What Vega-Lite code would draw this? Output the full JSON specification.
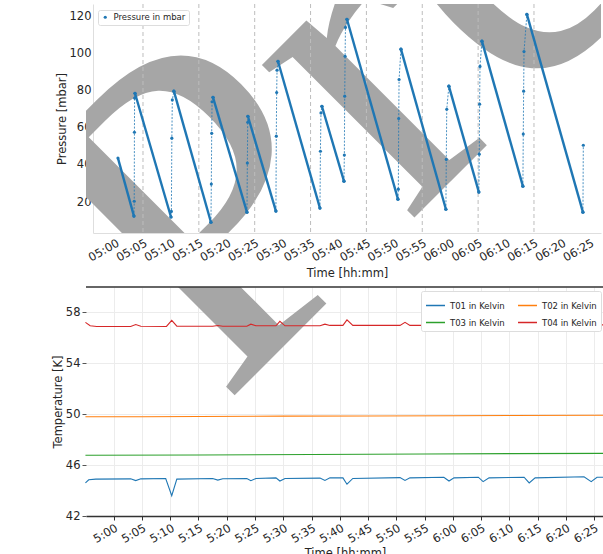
{
  "$schema": "https://vega.github.io/schema/vega-lite/v6.json",
  "padding": {"left": 52, "top": 3, "right": 0, "bottom": 0},
  "spacing": 6,
  "background": "white",
  "resolve": {"scale": {"color": "independent", "x": "independent", "y": "independent"}, "legend": {"color": "independent"}},
  "config": {
    "font": "DejaVu Sans",
    "view": {"stroke": null},
    "axis": {"labelFont": "DejaVu Sans", "titleFont": "DejaVu Sans", "labelFontSize": 11.5, "titleFontSize": 11.5, "titleFontWeight": "normal", "labelColor": "#262626", "titleColor": "#262626"},
    "legend": {"labelFont": "DejaVu Sans", "labelFontSize": 8.5, "labelColor": "#262626"}
  },
  "datasets": {
    "pressure": [
      {"t": "2012-01-01T05:00:31", "p": 43.7, "seg": "f1", "kind": "fall"},
      {"t": "2012-01-01T05:03:23", "p": 12.5, "seg": "f1", "kind": "fall"},
      {"t": "2012-01-01T05:03:23", "p": 12.5, "seg": "r1", "kind": "rise"},
      {"t": "2012-01-01T05:03:26", "p": 20.5, "seg": "r1", "kind": "rise"},
      {"t": "2012-01-01T05:03:28", "p": 57.6, "seg": "r1", "kind": "rise"},
      {"t": "2012-01-01T05:03:30", "p": 76.0, "seg": "r1", "kind": "rise"},
      {"t": "2012-01-01T05:03:34", "p": 78.6, "seg": "r1", "kind": "rise"},
      {"t": "2012-01-01T05:03:34", "p": 78.6, "seg": "f2", "kind": "fall"},
      {"t": "2012-01-01T05:10:01", "p": 12.0, "seg": "f2", "kind": "fall"},
      {"t": "2012-01-01T05:10:01", "p": 12.0, "seg": "r2", "kind": "rise"},
      {"t": "2012-01-01T05:10:05", "p": 15.0, "seg": "r2", "kind": "rise"},
      {"t": "2012-01-01T05:10:10", "p": 54.4, "seg": "r2", "kind": "rise"},
      {"t": "2012-01-01T05:10:15", "p": 75.0, "seg": "r2", "kind": "rise"},
      {"t": "2012-01-01T05:10:32", "p": 79.7, "seg": "r2", "kind": "rise"},
      {"t": "2012-01-01T05:10:32", "p": 79.7, "seg": "f3", "kind": "fall"},
      {"t": "2012-01-01T05:17:10", "p": 9.2, "seg": "f3", "kind": "fall"},
      {"t": "2012-01-01T05:17:10", "p": 9.2, "seg": "r3", "kind": "rise"},
      {"t": "2012-01-01T05:17:14", "p": 29.7, "seg": "r3", "kind": "rise"},
      {"t": "2012-01-01T05:17:18", "p": 57.0, "seg": "r3", "kind": "rise"},
      {"t": "2012-01-01T05:17:22", "p": 74.0, "seg": "r3", "kind": "rise"},
      {"t": "2012-01-01T05:17:32", "p": 76.4, "seg": "r3", "kind": "rise"},
      {"t": "2012-01-01T05:17:32", "p": 76.4, "seg": "f4", "kind": "fall"},
      {"t": "2012-01-01T05:23:37", "p": 14.6, "seg": "f4", "kind": "fall"},
      {"t": "2012-01-01T05:23:37", "p": 14.6, "seg": "r4", "kind": "rise"},
      {"t": "2012-01-01T05:23:41", "p": 41.0, "seg": "r4", "kind": "rise"},
      {"t": "2012-01-01T05:23:45", "p": 63.0, "seg": "r4", "kind": "rise"},
      {"t": "2012-01-01T05:23:47", "p": 66.2, "seg": "r4", "kind": "rise"},
      {"t": "2012-01-01T05:23:47", "p": 66.2, "seg": "f5", "kind": "fall"},
      {"t": "2012-01-01T05:28:48", "p": 15.2, "seg": "f5", "kind": "fall"},
      {"t": "2012-01-01T05:28:48", "p": 15.2, "seg": "r5", "kind": "rise"},
      {"t": "2012-01-01T05:28:52", "p": 55.5, "seg": "r5", "kind": "rise"},
      {"t": "2012-01-01T05:28:56", "p": 79.0, "seg": "r5", "kind": "rise"},
      {"t": "2012-01-01T05:29:00", "p": 91.0, "seg": "r5", "kind": "rise"},
      {"t": "2012-01-01T05:29:10", "p": 95.8, "seg": "r5", "kind": "rise"},
      {"t": "2012-01-01T05:29:10", "p": 95.8, "seg": "f6", "kind": "fall"},
      {"t": "2012-01-01T05:36:41", "p": 16.8, "seg": "f6", "kind": "fall"},
      {"t": "2012-01-01T05:36:41", "p": 16.8, "seg": "r6", "kind": "rise"},
      {"t": "2012-01-01T05:36:46", "p": 47.4, "seg": "r6", "kind": "rise"},
      {"t": "2012-01-01T05:36:52", "p": 68.0, "seg": "r6", "kind": "rise"},
      {"t": "2012-01-01T05:37:02", "p": 71.6, "seg": "r6", "kind": "rise"},
      {"t": "2012-01-01T05:37:02", "p": 71.6, "seg": "f7", "kind": "fall"},
      {"t": "2012-01-01T05:40:59", "p": 31.3, "seg": "f7", "kind": "fall"},
      {"t": "2012-01-01T05:40:59", "p": 31.3, "seg": "r7", "kind": "rise"},
      {"t": "2012-01-01T05:41:03", "p": 45.3, "seg": "r7", "kind": "rise"},
      {"t": "2012-01-01T05:41:07", "p": 77.0, "seg": "r7", "kind": "rise"},
      {"t": "2012-01-01T05:41:11", "p": 98.5, "seg": "r7", "kind": "rise"},
      {"t": "2012-01-01T05:41:15", "p": 114.0, "seg": "r7", "kind": "rise"},
      {"t": "2012-01-01T05:41:31", "p": 118.4, "seg": "r7", "kind": "rise"},
      {"t": "2012-01-01T05:41:31", "p": 118.4, "seg": "f8", "kind": "fall"},
      {"t": "2012-01-01T05:50:39", "p": 21.6, "seg": "f8", "kind": "fall"},
      {"t": "2012-01-01T05:50:39", "p": 21.6, "seg": "r8", "kind": "rise"},
      {"t": "2012-01-01T05:50:43", "p": 27.0, "seg": "r8", "kind": "rise"},
      {"t": "2012-01-01T05:50:47", "p": 65.0, "seg": "r8", "kind": "rise"},
      {"t": "2012-01-01T05:50:51", "p": 86.0, "seg": "r8", "kind": "rise"},
      {"t": "2012-01-01T05:51:11", "p": 102.3, "seg": "r8", "kind": "rise"},
      {"t": "2012-01-01T05:51:11", "p": 102.3, "seg": "f9", "kind": "fall"},
      {"t": "2012-01-01T05:59:14", "p": 16.2, "seg": "f9", "kind": "fall"},
      {"t": "2012-01-01T05:59:14", "p": 16.2, "seg": "r9", "kind": "rise"},
      {"t": "2012-01-01T05:59:18", "p": 43.0, "seg": "r9", "kind": "rise"},
      {"t": "2012-01-01T05:59:23", "p": 70.0, "seg": "r9", "kind": "rise"},
      {"t": "2012-01-01T05:59:46", "p": 82.4, "seg": "r9", "kind": "rise"},
      {"t": "2012-01-01T05:59:46", "p": 82.4, "seg": "f10", "kind": "fall"},
      {"t": "2012-01-01T06:05:08", "p": 25.4, "seg": "f10", "kind": "fall"},
      {"t": "2012-01-01T06:05:08", "p": 25.4, "seg": "r10", "kind": "rise"},
      {"t": "2012-01-01T06:05:12", "p": 45.8, "seg": "r10", "kind": "rise"},
      {"t": "2012-01-01T06:05:16", "p": 72.7, "seg": "r10", "kind": "rise"},
      {"t": "2012-01-01T06:05:20", "p": 93.0, "seg": "r10", "kind": "rise"},
      {"t": "2012-01-01T06:05:41", "p": 106.6, "seg": "r10", "kind": "rise"},
      {"t": "2012-01-01T06:05:41", "p": 106.6, "seg": "f11", "kind": "fall"},
      {"t": "2012-01-01T06:13:01", "p": 28.6, "seg": "f11", "kind": "fall"},
      {"t": "2012-01-01T06:13:01", "p": 28.6, "seg": "r11", "kind": "rise"},
      {"t": "2012-01-01T06:13:05", "p": 56.6, "seg": "r11", "kind": "rise"},
      {"t": "2012-01-01T06:13:09", "p": 79.7, "seg": "r11", "kind": "rise"},
      {"t": "2012-01-01T06:13:13", "p": 101.0, "seg": "r11", "kind": "rise"},
      {"t": "2012-01-01T06:13:44", "p": 121.0, "seg": "r11", "kind": "rise"},
      {"t": "2012-01-01T06:13:44", "p": 121.0, "seg": "f12", "kind": "fall"},
      {"t": "2012-01-01T06:23:46", "p": 14.6, "seg": "f12", "kind": "fall"},
      {"t": "2012-01-01T06:23:46", "p": 14.6, "seg": "r12", "kind": "rise"},
      {"t": "2012-01-01T06:23:50", "p": 50.6, "seg": "r12", "kind": "rise"}
    ],
    "markers": [
      {"t": "2012-01-01T05:05:00"}, {"t": "2012-01-01T05:15:00"}, {"t": "2012-01-01T05:25:00"}, {"t": "2012-01-01T05:35:00"},
      {"t": "2012-01-01T05:45:00"}, {"t": "2012-01-01T05:55:00"}, {"t": "2012-01-01T06:05:00"}, {"t": "2012-01-01T06:15:00"}
    ],
    "temps": [
      {"t": "2012-01-01T04:55:00", "T": 44.6, "s": "T01 in Kelvin"},
      {"t": "2012-01-01T04:55:35", "T": 44.85, "s": "T01 in Kelvin"},
      {"t": "2012-01-01T04:56:50", "T": 44.9, "s": "T01 in Kelvin"},
      {"t": "2012-01-01T05:03:00", "T": 44.92, "s": "T01 in Kelvin"},
      {"t": "2012-01-01T05:03:54", "T": 44.78, "s": "T01 in Kelvin"},
      {"t": "2012-01-01T05:04:48", "T": 44.92, "s": "T01 in Kelvin"},
      {"t": "2012-01-01T05:09:12", "T": 44.95, "s": "T01 in Kelvin"},
      {"t": "2012-01-01T05:10:16", "T": 43.6, "s": "T01 in Kelvin"},
      {"t": "2012-01-01T05:11:10", "T": 44.9, "s": "T01 in Kelvin"},
      {"t": "2012-01-01T05:17:30", "T": 44.95, "s": "T01 in Kelvin"},
      {"t": "2012-01-01T05:18:25", "T": 44.82, "s": "T01 in Kelvin"},
      {"t": "2012-01-01T05:19:18", "T": 44.93, "s": "T01 in Kelvin"},
      {"t": "2012-01-01T05:23:33", "T": 44.95, "s": "T01 in Kelvin"},
      {"t": "2012-01-01T05:24:16", "T": 44.78, "s": "T01 in Kelvin"},
      {"t": "2012-01-01T05:25:09", "T": 44.95, "s": "T01 in Kelvin"},
      {"t": "2012-01-01T05:28:42", "T": 45.0, "s": "T01 in Kelvin"},
      {"t": "2012-01-01T05:29:24", "T": 44.75, "s": "T01 in Kelvin"},
      {"t": "2012-01-01T05:30:18", "T": 44.95, "s": "T01 in Kelvin"},
      {"t": "2012-01-01T05:36:30", "T": 44.98, "s": "T01 in Kelvin"},
      {"t": "2012-01-01T05:37:22", "T": 44.8, "s": "T01 in Kelvin"},
      {"t": "2012-01-01T05:38:15", "T": 45.0, "s": "T01 in Kelvin"},
      {"t": "2012-01-01T05:40:33", "T": 45.0, "s": "T01 in Kelvin"},
      {"t": "2012-01-01T05:41:16", "T": 44.5, "s": "T01 in Kelvin"},
      {"t": "2012-01-01T05:42:18", "T": 44.95, "s": "T01 in Kelvin"},
      {"t": "2012-01-01T05:50:39", "T": 45.02, "s": "T01 in Kelvin"},
      {"t": "2012-01-01T05:51:32", "T": 44.8, "s": "T01 in Kelvin"},
      {"t": "2012-01-01T05:52:24", "T": 45.0, "s": "T01 in Kelvin"},
      {"t": "2012-01-01T05:58:24", "T": 45.05, "s": "T01 in Kelvin"},
      {"t": "2012-01-01T05:59:19", "T": 44.75, "s": "T01 in Kelvin"},
      {"t": "2012-01-01T06:00:12", "T": 45.0, "s": "T01 in Kelvin"},
      {"t": "2012-01-01T06:04:30", "T": 45.05, "s": "T01 in Kelvin"},
      {"t": "2012-01-01T06:05:21", "T": 44.7, "s": "T01 in Kelvin"},
      {"t": "2012-01-01T06:06:24", "T": 45.0, "s": "T01 in Kelvin"},
      {"t": "2012-01-01T06:12:36", "T": 45.05, "s": "T01 in Kelvin"},
      {"t": "2012-01-01T06:13:30", "T": 44.6, "s": "T01 in Kelvin"},
      {"t": "2012-01-01T06:14:33", "T": 45.0, "s": "T01 in Kelvin"},
      {"t": "2012-01-01T06:23:12", "T": 45.08, "s": "T01 in Kelvin"},
      {"t": "2012-01-01T06:24:28", "T": 44.7, "s": "T01 in Kelvin"},
      {"t": "2012-01-01T06:25:30", "T": 45.05, "s": "T01 in Kelvin"},
      {"t": "2012-01-01T06:26:44", "T": 45.05, "s": "T01 in Kelvin"},
      {"t": "2012-01-01T04:55:00", "T": 49.8, "s": "T02 in Kelvin"},
      {"t": "2012-01-01T05:05:00", "T": 49.8, "s": "T02 in Kelvin"},
      {"t": "2012-01-01T05:15:00", "T": 49.82, "s": "T02 in Kelvin"},
      {"t": "2012-01-01T05:30:00", "T": 49.85, "s": "T02 in Kelvin"},
      {"t": "2012-01-01T05:45:00", "T": 49.86, "s": "T02 in Kelvin"},
      {"t": "2012-01-01T06:00:00", "T": 49.88, "s": "T02 in Kelvin"},
      {"t": "2012-01-01T06:10:00", "T": 49.9, "s": "T02 in Kelvin"},
      {"t": "2012-01-01T06:26:44", "T": 49.92, "s": "T02 in Kelvin"},
      {"t": "2012-01-01T04:55:00", "T": 46.78, "s": "T03 in Kelvin"},
      {"t": "2012-01-01T05:15:00", "T": 46.8, "s": "T03 in Kelvin"},
      {"t": "2012-01-01T05:35:00", "T": 46.83, "s": "T03 in Kelvin"},
      {"t": "2012-01-01T05:55:00", "T": 46.87, "s": "T03 in Kelvin"},
      {"t": "2012-01-01T06:10:00", "T": 46.9, "s": "T03 in Kelvin"},
      {"t": "2012-01-01T06:26:44", "T": 46.92, "s": "T03 in Kelvin"},
      {"t": "2012-01-01T04:55:00", "T": 57.22, "s": "T04 in Kelvin"},
      {"t": "2012-01-01T04:55:50", "T": 56.95, "s": "T04 in Kelvin"},
      {"t": "2012-01-01T04:57:00", "T": 56.9, "s": "T04 in Kelvin"},
      {"t": "2012-01-01T05:03:00", "T": 56.9, "s": "T04 in Kelvin"},
      {"t": "2012-01-01T05:03:54", "T": 57.05, "s": "T04 in Kelvin"},
      {"t": "2012-01-01T05:04:48", "T": 56.92, "s": "T04 in Kelvin"},
      {"t": "2012-01-01T05:09:20", "T": 56.9, "s": "T04 in Kelvin"},
      {"t": "2012-01-01T05:10:16", "T": 57.38, "s": "T04 in Kelvin"},
      {"t": "2012-01-01T05:11:10", "T": 56.92, "s": "T04 in Kelvin"},
      {"t": "2012-01-01T05:17:30", "T": 56.92, "s": "T04 in Kelvin"},
      {"t": "2012-01-01T05:18:25", "T": 56.97, "s": "T04 in Kelvin"},
      {"t": "2012-01-01T05:19:18", "T": 56.92, "s": "T04 in Kelvin"},
      {"t": "2012-01-01T05:23:33", "T": 56.92, "s": "T04 in Kelvin"},
      {"t": "2012-01-01T05:24:16", "T": 57.08, "s": "T04 in Kelvin"},
      {"t": "2012-01-01T05:25:09", "T": 56.95, "s": "T04 in Kelvin"},
      {"t": "2012-01-01T05:28:42", "T": 56.95, "s": "T04 in Kelvin"},
      {"t": "2012-01-01T05:29:24", "T": 57.3, "s": "T04 in Kelvin"},
      {"t": "2012-01-01T05:30:18", "T": 56.95, "s": "T04 in Kelvin"},
      {"t": "2012-01-01T05:36:30", "T": 56.95, "s": "T04 in Kelvin"},
      {"t": "2012-01-01T05:37:22", "T": 57.08, "s": "T04 in Kelvin"},
      {"t": "2012-01-01T05:38:15", "T": 56.98, "s": "T04 in Kelvin"},
      {"t": "2012-01-01T05:40:33", "T": 56.98, "s": "T04 in Kelvin"},
      {"t": "2012-01-01T05:41:16", "T": 57.42, "s": "T04 in Kelvin"},
      {"t": "2012-01-01T05:42:18", "T": 56.98, "s": "T04 in Kelvin"},
      {"t": "2012-01-01T05:50:39", "T": 56.98, "s": "T04 in Kelvin"},
      {"t": "2012-01-01T05:51:32", "T": 57.22, "s": "T04 in Kelvin"},
      {"t": "2012-01-01T05:52:24", "T": 56.98, "s": "T04 in Kelvin"},
      {"t": "2012-01-01T05:58:24", "T": 56.98, "s": "T04 in Kelvin"},
      {"t": "2012-01-01T05:59:19", "T": 57.22, "s": "T04 in Kelvin"},
      {"t": "2012-01-01T06:00:12", "T": 57.0, "s": "T04 in Kelvin"},
      {"t": "2012-01-01T06:04:30", "T": 57.0, "s": "T04 in Kelvin"},
      {"t": "2012-01-01T06:05:21", "T": 57.42, "s": "T04 in Kelvin"},
      {"t": "2012-01-01T06:06:24", "T": 57.0, "s": "T04 in Kelvin"},
      {"t": "2012-01-01T06:12:36", "T": 57.0, "s": "T04 in Kelvin"},
      {"t": "2012-01-01T06:13:30", "T": 57.28, "s": "T04 in Kelvin"},
      {"t": "2012-01-01T06:14:33", "T": 57.0, "s": "T04 in Kelvin"},
      {"t": "2012-01-01T06:23:12", "T": 57.0, "s": "T04 in Kelvin"},
      {"t": "2012-01-01T06:24:28", "T": 57.12, "s": "T04 in Kelvin"},
      {"t": "2012-01-01T06:25:30", "T": 57.02, "s": "T04 in Kelvin"},
      {"t": "2012-01-01T06:26:44", "T": 57.02, "s": "T04 in Kelvin"}
    ]
  },
  "vconcat": [
    {
      "width": 515,
      "height": 229,
      "layer": [
        {
          "data": {"values": [{}]},
          "mark": {"type": "text", "text": "Preliminary", "font": "Liberation Serif", "fontSize": 470, "angle": -45, "align": "left", "baseline": "alphabetic", "color": "#a6a6a6", "clip": true},
          "encoding": {
            "x": {"datum": {"year": 2012, "month": 1, "date": 1, "hours": 5, "minutes": 19, "seconds": 19}, "type": "temporal", "title": "Time [hh:mm]",
                  "scale": {"domain": [{"year": 2012, "month": 1, "date": 1, "hours": 4, "minutes": 56, "seconds": 3}, {"year": 2012, "month": 1, "date": 1, "hours": 6, "minutes": 27}], "range": [7, 515], "nice": false}},
            "y": {"datum": -91.3, "type": "quantitative", "title": "Pressure [mbar]", "scale": {"domain": [3.4, 126.6], "nice": false, "zero": false}}
          }
        },
        {
          "data": {"name": "markers"},
          "mark": {"type": "rule", "color": "#bdbdbd", "strokeWidth": 1, "strokeDash": [4, 3]},
          "encoding": {
            "x": {"field": "t", "type": "temporal", "title": "Time [hh:mm]",
                  "scale": {"domain": [{"year": 2012, "month": 1, "date": 1, "hours": 4, "minutes": 56, "seconds": 3}, {"year": 2012, "month": 1, "date": 1, "hours": 6, "minutes": 27}], "range": [7, 515], "nice": false}}
          }
        },
        {
          "data": {"name": "pressure"},
          "transform": [{"filter": "datum.kind == 'fall'"}],
          "mark": {"type": "line", "color": "#1f77b4", "strokeWidth": 2.4},
          "encoding": {
            "x": {"field": "t", "type": "temporal", "title": "Time [hh:mm]",
                  "scale": {"domain": [{"year": 2012, "month": 1, "date": 1, "hours": 4, "minutes": 56, "seconds": 3}, {"year": 2012, "month": 1, "date": 1, "hours": 6, "minutes": 27}], "range": [7, 515], "nice": false},
                  "axis": {"format": "%H:%M", "tickCount": 18, "labelAngle": -30, "labelAlign": "right", "labelBaseline": "top", "grid": false, "ticks": false, "domainColor": "#dedede", "labelPadding": 4, "titlePadding": 4, "labelOverlap": false}},
            "y": {"field": "p", "type": "quantitative", "title": "Pressure [mbar]", "scale": {"domain": [3.4, 126.6], "nice": false, "zero": false},
                  "axis": {"values": [20, 40, 60, 80, 100, 120], "ticks": false, "grid": false, "domainColor": "#dedede", "offset": -7, "labelPadding": 2, "titlePadding": 2}},
            "detail": {"field": "seg"}
          }
        },
        {
          "data": {"name": "pressure"},
          "transform": [{"filter": "datum.kind == 'rise'"}],
          "mark": {"type": "line", "color": "#1f77b4", "strokeWidth": 1, "strokeDash": [2, 1.5], "opacity": 0.8},
          "encoding": {
            "x": {"field": "t", "type": "temporal", "title": "Time [hh:mm]",
                  "scale": {"domain": [{"year": 2012, "month": 1, "date": 1, "hours": 4, "minutes": 56, "seconds": 3}, {"year": 2012, "month": 1, "date": 1, "hours": 6, "minutes": 27}], "range": [7, 515], "nice": false}},
            "y": {"field": "p", "type": "quantitative", "title": "Pressure [mbar]", "scale": {"domain": [3.4, 126.6], "nice": false, "zero": false}},
            "detail": {"field": "seg"}
          }
        },
        {
          "data": {"name": "pressure"},
          "mark": {"type": "point", "filled": true, "size": 10, "opacity": 1},
          "encoding": {
            "x": {"field": "t", "type": "temporal", "title": "Time [hh:mm]",
                  "scale": {"domain": [{"year": 2012, "month": 1, "date": 1, "hours": 4, "minutes": 56, "seconds": 3}, {"year": 2012, "month": 1, "date": 1, "hours": 6, "minutes": 27}], "range": [7, 515], "nice": false}},
            "y": {"field": "p", "type": "quantitative", "title": "Pressure [mbar]", "scale": {"domain": [3.4, 126.6], "nice": false, "zero": false}},
            "color": {"datum": "Pressure in mbar", "type": "nominal", "scale": {"range": ["#1f77b4"]},
                      "legend": {"title": null, "orient": "none", "legendX": 12, "legendY": 6, "symbolType": "circle", "symbolSize": 10, "padding": 3, "fillColor": "white", "strokeColor": "#dddddd", "cornerRadius": 2}}
          }
        }
      ]
    },
    {
      "width": 518,
      "height": 229,
      "layer": [
        {
          "data": {"values": [{}]},
          "mark": {"type": "text", "text": "Preliminary", "font": "Liberation Serif", "fontSize": 470, "angle": -45, "align": "left", "baseline": "alphabetic", "color": "#a6a6a6", "clip": true},
          "encoding": {
            "x": {"datum": {"year": 2012, "month": 1, "date": 1, "hours": 5, "minutes": 19, "seconds": 20}, "type": "temporal", "title": "Time [hh:mm]",
                  "scale": {"domain": [{"year": 2012, "month": 1, "date": 1, "hours": 4, "minutes": 55, "seconds": 6}, {"year": 2012, "month": 1, "date": 1, "hours": 6, "minutes": 26, "seconds": 44}], "nice": false}},
            "y": {"datum": 50.57, "type": "quantitative", "title": "Temperature [K]", "scale": {"domain": [42, 60], "nice": false, "zero": false}}
          }
        },
        {
          "data": {"name": "temps"},
          "mark": {"type": "line", "strokeWidth": 1.1},
          "encoding": {
            "x": {"field": "t", "type": "temporal", "title": "Time [hh:mm]",
                  "scale": {"domain": [{"year": 2012, "month": 1, "date": 1, "hours": 4, "minutes": 55, "seconds": 6}, {"year": 2012, "month": 1, "date": 1, "hours": 6, "minutes": 26, "seconds": 44}], "nice": false},
                  "axis": {"format": "%-H:%M", "tickCount": 18, "labelAngle": -30, "labelAlign": "right", "labelBaseline": "top", "grid": true, "gridColor": "#ececec", "domainColor": "#333333", "domainWidth": 1.3, "tickColor": "#333333", "tickSize": 4, "labelPadding": 2, "titlePadding": 3, "labelOverlap": false}},
            "y": {"field": "T", "type": "quantitative", "title": "Temperature [K]", "scale": {"domain": [42, 60], "nice": false, "zero": false},
                  "axis": {"values": [42, 44, 46, 48, 50, 52, 54, 56, 58, 60], "labelOverlap": false, "grid": true, "gridColor": "#ececec", "domain": false, "tickSize": 4, "tickColor": "#555555", "labelPadding": 2, "titlePadding": 2}},
            "color": {"field": "s", "type": "nominal",
                      "scale": {"domain": ["T01 in Kelvin", "T03 in Kelvin", "T02 in Kelvin", "T04 in Kelvin"], "range": ["#1f77b4", "#2ca02c", "#ff7f0e", "#d62728"]},
                      "legend": {"title": null, "orient": "none", "legendX": 335, "legendY": 4, "columns": 2, "symbolType": "stroke", "symbolSize": 360, "symbolStrokeWidth": 1.5, "padding": 4, "fillColor": "white", "strokeColor": "#dddddd", "cornerRadius": 2}}
          }
        },
        {
          "data": {"values": [{}]},
          "mark": {"type": "rule", "color": "#333333", "strokeWidth": 1.3},
          "encoding": {"y": {"datum": 60, "type": "quantitative", "title": "Temperature [K]", "scale": {"domain": [42, 60], "nice": false, "zero": false}}}
        }
      ]
    }
  ]
}
